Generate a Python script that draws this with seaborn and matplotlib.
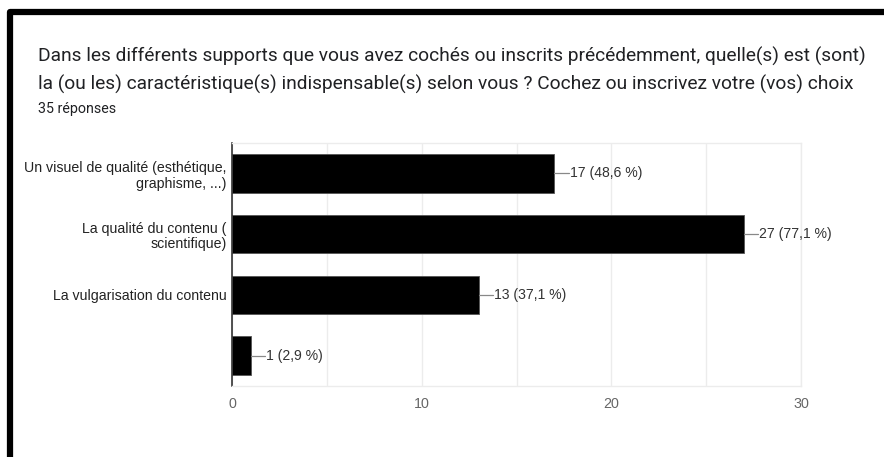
import matplotlib
import pandas as pd
import seaborn as sns
from matplotlib.lines import Line2D

matplotlib.use("Agg")
import matplotlib.pyplot as plt

# Data
categories = [
    "Un visuel de qualité (esthétique,\ngraphisme, ...)",
    "La qualité du contenu (\nscientifique)",
    "La vulgarisation du contenu",
    " ",
]
counts = [17, 27, 13, 1]
percents = ["48,6", "77,1", "37,1", "2,9"]
x_ticks = [0, 10, 20, 30]

title_lines = [
    "Dans les différents supports que vous avez cochés ou inscrits précédemment, quelle(s) est (sont)",
    "la (ou les) caractéristique(s) indispensable(s) selon vous ? Cochez ou inscrivez votre (vos) choix",
]
subtitle = "35 réponses"

W, H = 884, 457

sns.set_style("white")
plt.rcParams["font.family"] = ["Liberation Sans", "DejaVu Sans"]

df = pd.DataFrame({"label": categories, "count": counts})

fig = plt.figure(figsize=(W / 100, H / 100), dpi=100)
fig.patch.set_facecolor("white")
ax = fig.add_axes([232 / W, 1 - 386 / H, (801 - 232) / W, (386 - 143) / H])

sns.barplot(
    data=df,
    x="count",
    y="label",
    order=categories,
    orient="h",
    color="black",
    saturation=1,
    width=0.63,
    edgecolor="#555555",
    linewidth=0.6,
    ax=ax,
)

ax.set_xlim(0, 30)
ax.set_ylim(3.5, -0.5)
ax.set_xticks(x_ticks)
ax.set_xticks([5, 15, 25], minor=True)
ax.grid(True, axis="x", which="both", color="#ececec", linewidth=1)
ax.set_axisbelow(True)
ax.set_xlabel("")
ax.set_ylabel("")

for side in ["top", "right", "bottom"]:
    ax.spines[side].set_color("#ececec")
    ax.spines[side].set_linewidth(1)
ax.spines["left"].set_color("#333333")
ax.spines["left"].set_linewidth(1.2)

ax.tick_params(axis="y", length=0, pad=4, labelsize=10.2, labelcolor="#222222")
ax.tick_params(axis="x", which="both", length=0, pad=8, labelsize=10.3, labelcolor="#666666")
for lbl in ax.get_yticklabels():
    lbl.set_multialignment("right")
    lbl.set_linespacing(1.15)

# value labels with the short leader line
for i, (c, p) in enumerate(zip(counts, percents)):
    ax.plot([c, c + 0.75], [i, i], color="#888888", linewidth=0.9, clip_on=False)
    ax.text(c + 0.8, i, f"{c} ({p} %)", va="center", ha="left",
            fontsize=10.1, color="#333333")

# title block
title_font = ["Roboto", "DejaVu Sans"]
fig.text(38 / W, 1 - 62 / H, title_lines[0], fontsize=13.8, family=title_font,
         color="#202124", va="baseline", ha="left")
fig.text(38 / W, 1 - 90 / H, title_lines[1], fontsize=13.8, family=title_font,
         color="#202124", va="baseline", ha="left")
fig.text(38 / W, 1 - 113 / H, subtitle, fontsize=10.3, family=title_font,
         color="#202124", va="baseline", ha="left")

# black card border (top and left edges visible)
bx, by = 10 / W, 1 - 12 / H
border = Line2D([bx, bx, 1.1], [-0.1, by, by], transform=fig.transFigure,
                color="black", linewidth=4.5, solid_joinstyle="round")
fig.lines.append(border)

fig.savefig("out.png", dpi=100)
plt.close(fig)
